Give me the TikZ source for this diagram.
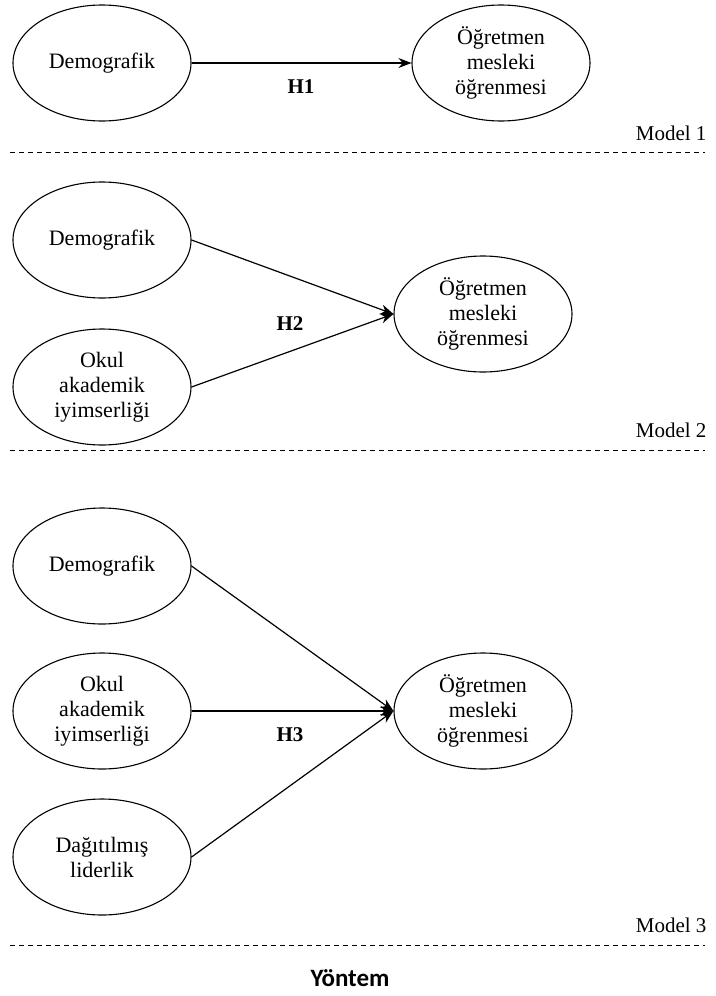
\documentclass[tikz,border=0pt]{standalone}
\usepackage{fontspec}
\setmainfont{Liberation Serif}
\newfontfamily\yontemfont{Carlito}
\usetikzlibrary{arrows.meta,positioning,shapes.geometric}
\tikzset{
  konstrukt/.style={draw,ellipse,line width=1.1pt,minimum width=178pt,minimum height=116pt,inner sep=0pt,align=center,font=\fontsize{22}{25}\selectfont},
  yol/.style={line width=1.2pt,-{Stealth[length=13pt,width=10pt]}},
  hip/.style={font=\fontsize{21}{25}\selectfont\bfseries},
  modelad/.style={font=\fontsize{21}{25}\selectfont,anchor=east},
  ayrac/.style={line width=1pt,dash pattern=on 5pt off 4pt}
}
\begin{document}
\begin{tikzpicture}[x=1pt,y=-1pt]
\useasboundingbox (0,0) rectangle (715,996);

\node[konstrukt] (dem1) at (102,63) {Demografik};
\node[konstrukt] (ogr1) at (501,63) {Öğretmen\\mesleki\\öğrenmesi};
\draw[yol] (dem1.east) -- (ogr1.west);
\node[hip] (h1) at (301,87) {H1};
\node[modelad] (m1) at (710,133) {Model 1};
\draw[ayrac] (10,152) -- (705,152);

\node[konstrukt] (dem2) at (102,240) {Demografik};
\node[konstrukt] (okul2) at (102,387) {Okul\\akademik\\iyimserliği};
\node[konstrukt] (ogr2) at (483,314) {Öğretmen\\mesleki\\öğrenmesi};
\draw[yol] (dem2.east) -- (ogr2.west);
\draw[yol] (okul2.east) -- (ogr2.west);
\node[hip] (h2) at (290,324) {H2};
\node[modelad] (m2) at (710,430) {Model 2};
\draw[ayrac] (10,450) -- (705,450);

\node[konstrukt] (dem3) at (102,566) {Demografik};
\node[konstrukt] (okul3) at (102,711) {Okul\\akademik\\iyimserliği};
\node[konstrukt] (dag3) at (102,857) {Dağıtılmış\\liderlik};
\node[konstrukt] (ogr3) at (483,711) {Öğretmen\\mesleki\\öğrenmesi};
\draw[yol] (dem3.east) -- (ogr3.west);
\draw[yol] (okul3.east) -- (ogr3.west);
\draw[yol] (dag3.east) -- (ogr3.west);
\node[hip] (h3) at (290,735) {H3};
\node[modelad] (m3) at (710,925) {Model 3};
\draw[ayrac] (10,945) -- (705,945);

\node[font=\yontemfont\bfseries\fontsize{25}{28}\selectfont] (yontem) at (350,978) {Yöntem};
\end{tikzpicture}
\end{document}
